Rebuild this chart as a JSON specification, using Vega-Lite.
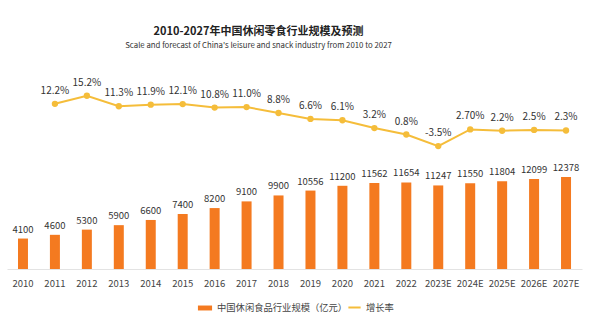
{
  "$schema": "https://vega.github.io/schema/vega-lite/v6.json",
  "width": 575,
  "height": 209,
  "autosize": {"type": "none"},
  "padding": {"left": 7, "top": 60, "right": 18, "bottom": 52},
  "background": "white",
  "config": {
    "font": "Noto Sans CJK SC",
    "view": {"stroke": null}
  },
  "title": {
    "text": "2010-2027年中国休闲零食行业规模及预测",
    "subtitle": "Scale and forecast of China's leisure and snack industry from 2010 to 2027",
    "anchor": "middle",
    "dx": -36,
    "offset": 10,
    "font": "Noto Sans CJK SC",
    "fontSize": 11,
    "fontWeight": "bold",
    "color": "#222222",
    "subtitleFont": "Noto Sans CJK SC",
    "subtitleFontSize": 7.8,
    "subtitleColor": "#333333",
    "subtitlePadding": 5
  },
  "data": {
    "values": [
      {"year": "2010", "value": 4100, "growth": null, "glabel": ""},
      {"year": "2011", "value": 4600, "growth": 12.2, "glabel": "12.2%"},
      {"year": "2012", "value": 5300, "growth": 15.2, "glabel": "15.2%"},
      {"year": "2013", "value": 5900, "growth": 11.3, "glabel": "11.3%"},
      {"year": "2014", "value": 6600, "growth": 11.9, "glabel": "11.9%"},
      {"year": "2015", "value": 7400, "growth": 12.1, "glabel": "12.1%"},
      {"year": "2016", "value": 8200, "growth": 10.8, "glabel": "10.8%"},
      {"year": "2017", "value": 9100, "growth": 11.0, "glabel": "11.0%"},
      {"year": "2018", "value": 9900, "growth": 8.8, "glabel": "8.8%"},
      {"year": "2019", "value": 10556, "growth": 6.6, "glabel": "6.6%"},
      {"year": "2020", "value": 11200, "growth": 6.1, "glabel": "6.1%"},
      {"year": "2021", "value": 11562, "growth": 3.2, "glabel": "3.2%"},
      {"year": "2022", "value": 11654, "growth": 0.8, "glabel": "0.8%"},
      {"year": "2023E", "value": 11247, "growth": -3.5, "glabel": "-3.5%"},
      {"year": "2024E", "value": 11550, "growth": 2.7, "glabel": "2.70%"},
      {"year": "2025E", "value": 11804, "growth": 2.2, "glabel": "2.2%"},
      {"year": "2026E", "value": 12099, "growth": 2.5, "glabel": "2.5%"},
      {"year": "2027E", "value": 12378, "growth": 2.3, "glabel": "2.3%"}
    ]
  },
  "encoding": {
    "x": {
      "field": "year",
      "type": "ordinal",
      "sort": null,
      "scale": {"paddingInner": 0, "paddingOuter": 0},
      "axis": {
        "title": null,
        "labelAngle": 0,
        "ticks": false,
        "domainColor": "#e3e3e3",
        "labelColor": "#444444",
        "labelFontSize": 9.5,
        "labelPadding": 9
      }
    }
  },
  "layer": [
    {
      "layer": [
        {
          "mark": {"type": "bar", "size": 10},
          "encoding": {
            "y": {"field": "value", "type": "quantitative", "scale": {"domain": [0, 28130]}, "axis": null},
            "fill": {
              "datum": "中国休闲食品行业规模（亿元）",
              "scale": {"range": ["#F47A20"]},
              "legend": {
                "orient": "none",
                "legendX": 190,
                "legendY": 240,
                "title": null,
                "symbolType": "M-1,-0.35L1,-0.35L1,0.35L-1,0.35Z",
                "symbolSize": 200,
                "labelFontSize": 9.3,
                "labelColor": "#444444"
              }
            }
          }
        },
        {
          "mark": {"type": "text", "baseline": "bottom", "dy": -4, "fontSize": 9.5, "color": "#333333"},
          "encoding": {
            "y": {"field": "value", "type": "quantitative", "scale": {"domain": [0, 28130]}, "axis": null},
            "text": {"field": "value", "type": "quantitative", "format": "d"}
          }
        }
      ]
    },
    {
      "transform": [{"filter": "datum.growth != null"}],
      "layer": [
        {
          "mark": {"type": "line", "strokeWidth": 2},
          "encoding": {
            "y": {"field": "growth", "type": "quantitative", "scale": {"domain": [-49.2, 28.5]}, "axis": null},
            "stroke": {
              "datum": "增长率",
              "scale": {"range": ["#F5BD3A"]},
              "legend": {
                "orient": "none",
                "legendX": 340,
                "legendY": 240,
                "title": null,
                "symbolType": "stroke",
                "symbolSize": 150,
                "symbolStrokeWidth": 2,
                "labelFontSize": 9.3,
                "labelColor": "#444444"
              }
            }
          }
        },
        {
          "mark": {"type": "point", "filled": true, "size": 40, "color": "#F5BD3A", "opacity": 1},
          "encoding": {
            "y": {"field": "growth", "type": "quantitative", "scale": {"domain": [-49.2, 28.5]}, "axis": null}
          }
        },
        {
          "mark": {"type": "text", "baseline": "bottom", "dy": -8, "fontSize": 10, "color": "#333333"},
          "encoding": {
            "y": {"field": "growth", "type": "quantitative", "scale": {"domain": [-49.2, 28.5]}, "axis": null},
            "text": {"field": "glabel"}
          }
        }
      ]
    }
  ],
  "resolve": {"scale": {"y": "independent", "fill": "independent", "stroke": "independent"}}
}
